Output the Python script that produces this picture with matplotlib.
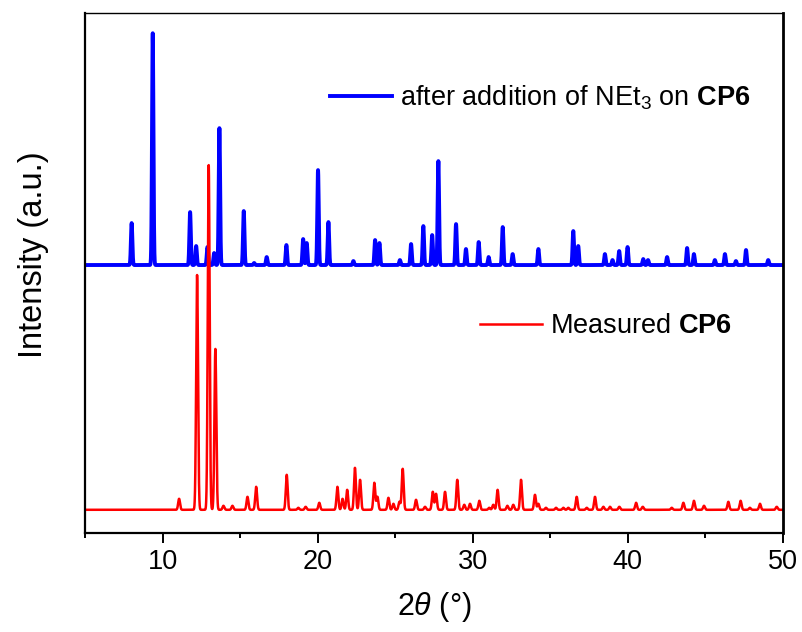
import numpy as np
import matplotlib
matplotlib.use("Agg")
import matplotlib.pyplot as plt

plt.rcParams['font.family'] = ['Liberation Sans', 'DejaVu Sans']
plt.rcParams['mathtext.fontset'] = 'custom'
plt.rcParams['mathtext.rm'] = 'Liberation Sans'
plt.rcParams['mathtext.it'] = 'Liberation Sans:italic'
plt.rcParams['mathtext.bf'] = 'Liberation Sans:bold'

# peak lists: 2theta (deg) and height (a.u.)
blue_pos = [8.0, 9.36, 11.77, 12.16, 12.89, 13.32, 13.66, 15.23, 15.9, 16.71,
            17.98, 19.06, 19.29, 20.02, 20.69, 22.3, 23.7, 23.98, 25.3, 26.02,
            26.81, 27.38, 27.78, 28.92, 29.56, 30.38, 31.02, 31.93, 32.57, 34.23,
            36.48, 36.8, 38.52, 39.01, 39.44, 39.98, 40.99, 41.3, 42.53, 43.82,
            44.26, 45.61, 46.26, 46.97, 47.62, 49.05]
blue_h = [42, 232, 53, 19, 18, 12, 137, 54, 2, 8,
          20, 26, 22, 95, 43, 4, 25, 22, 5, 21,
          39, 30, 104, 41, 16, 23, 8, 38, 11, 16,
          34, 19, 11, 5, 14, 18, 6, 5, 8, 17,
          11, 5, 11, 4, 15, 5]
blue_base = 268

red_pos = [11.06, 12.22, 12.97, 13.4, 13.92, 14.5, 15.47, 16.03, 18.0, 18.75,
           19.22, 20.1, 21.27, 21.6, 21.9, 22.4, 22.73, 23.65, 23.85, 24.56,
           24.88, 25.27, 25.48, 26.34, 26.92, 27.42, 27.63, 28.21, 29.0, 29.45,
           29.82, 30.42, 31.06, 31.32, 31.6, 32.23, 32.61, 33.11, 34.01, 34.23,
           34.72, 35.37, 35.84, 36.16, 36.7, 37.35, 37.88, 38.42, 38.85, 39.45,
           40.53, 40.96, 42.83, 43.58, 44.26, 44.91, 46.48, 47.27, 47.87, 48.52,
           49.6]
red_h = [11, 235, 345, 161, 4, 4, 13, 23, 35, 2,
         3, 7, 23, 11, 20, 42, 30, 27, 13, 12,
         6, 8, 41, 10, 3, 18, 16, 18, 30, 5,
         6, 9, 2, 5, 20, 4, 5, 30, 15, 6,
         2, 2, 2, 2, 13, 2, 13, 3, 3, 3,
         7, 3, 2, 7, 9, 4, 8, 9, 2, 6,
         3]
red_base = 23

x = np.linspace(5, 50, 9001)


def pattern(pos, h, base, w):
    y = np.full_like(x, float(base))
    for p, a in zip(pos, h):
        y += a * np.exp(-0.5 * ((x - p) / w) ** 2)
    return y


fig = plt.figure(figsize=(8.03, 6.32), dpi=100)
ax = fig.add_axes([0.106, 0.157, 0.869, 0.822])

lb, = ax.plot(x, pattern(blue_pos, blue_h, blue_base, 0.045), color='#0000ff', lw=2.8)
lr, = ax.plot(x, pattern(red_pos, red_h, red_base, 0.06), color='#ff0000', lw=1.8)

ax.set_xlim(5, 50)
ax.set_ylim(0, 520)
ax.set_xticks([10, 20, 30, 40, 50])
ax.set_xticks([5, 15, 25, 35, 45], minor=True)
ax.set_yticks([])
ax.tick_params(axis='x', which='major', direction='out', length=7.5, width=1.4,
               labelsize=19.5, pad=4)
ax.tick_params(axis='x', which='minor', direction='out', length=3.6, width=1.4)

ax.spines['left'].set_linewidth(1.6)
ax.spines['bottom'].set_linewidth(1.6)
ax.spines['top'].set_linewidth(1.0)
ax.spines['right'].set_linewidth(2.0)

ax.set_xlabel(r'2$\it{\theta}$ (°)', fontsize=22, labelpad=11)
ax.set_ylabel('Intensity (a.u.)', fontsize=23.5)
ax.yaxis.set_label_coords(-0.052, 0.535)

leg1 = ax.legend([lb], [r'after addition of NEt$_3$ on $\mathbf{CP6}$'],
                 loc='center left', bbox_to_anchor=(0.351, 0.8365), frameon=False,
                 fontsize=19.5, handlelength=2.3, handletextpad=0.3,
                 borderpad=0, borderaxespad=0)
ax.add_artist(leg1)
ax.legend([lr], [r'Measured $\mathbf{CP6}$'],
          loc='center left', bbox_to_anchor=(0.566, 0.398), frameon=False,
          fontsize=19.5, handlelength=2.3, handletextpad=0.3,
          borderpad=0, borderaxespad=0)

fig.savefig('out.png', dpi=100)
